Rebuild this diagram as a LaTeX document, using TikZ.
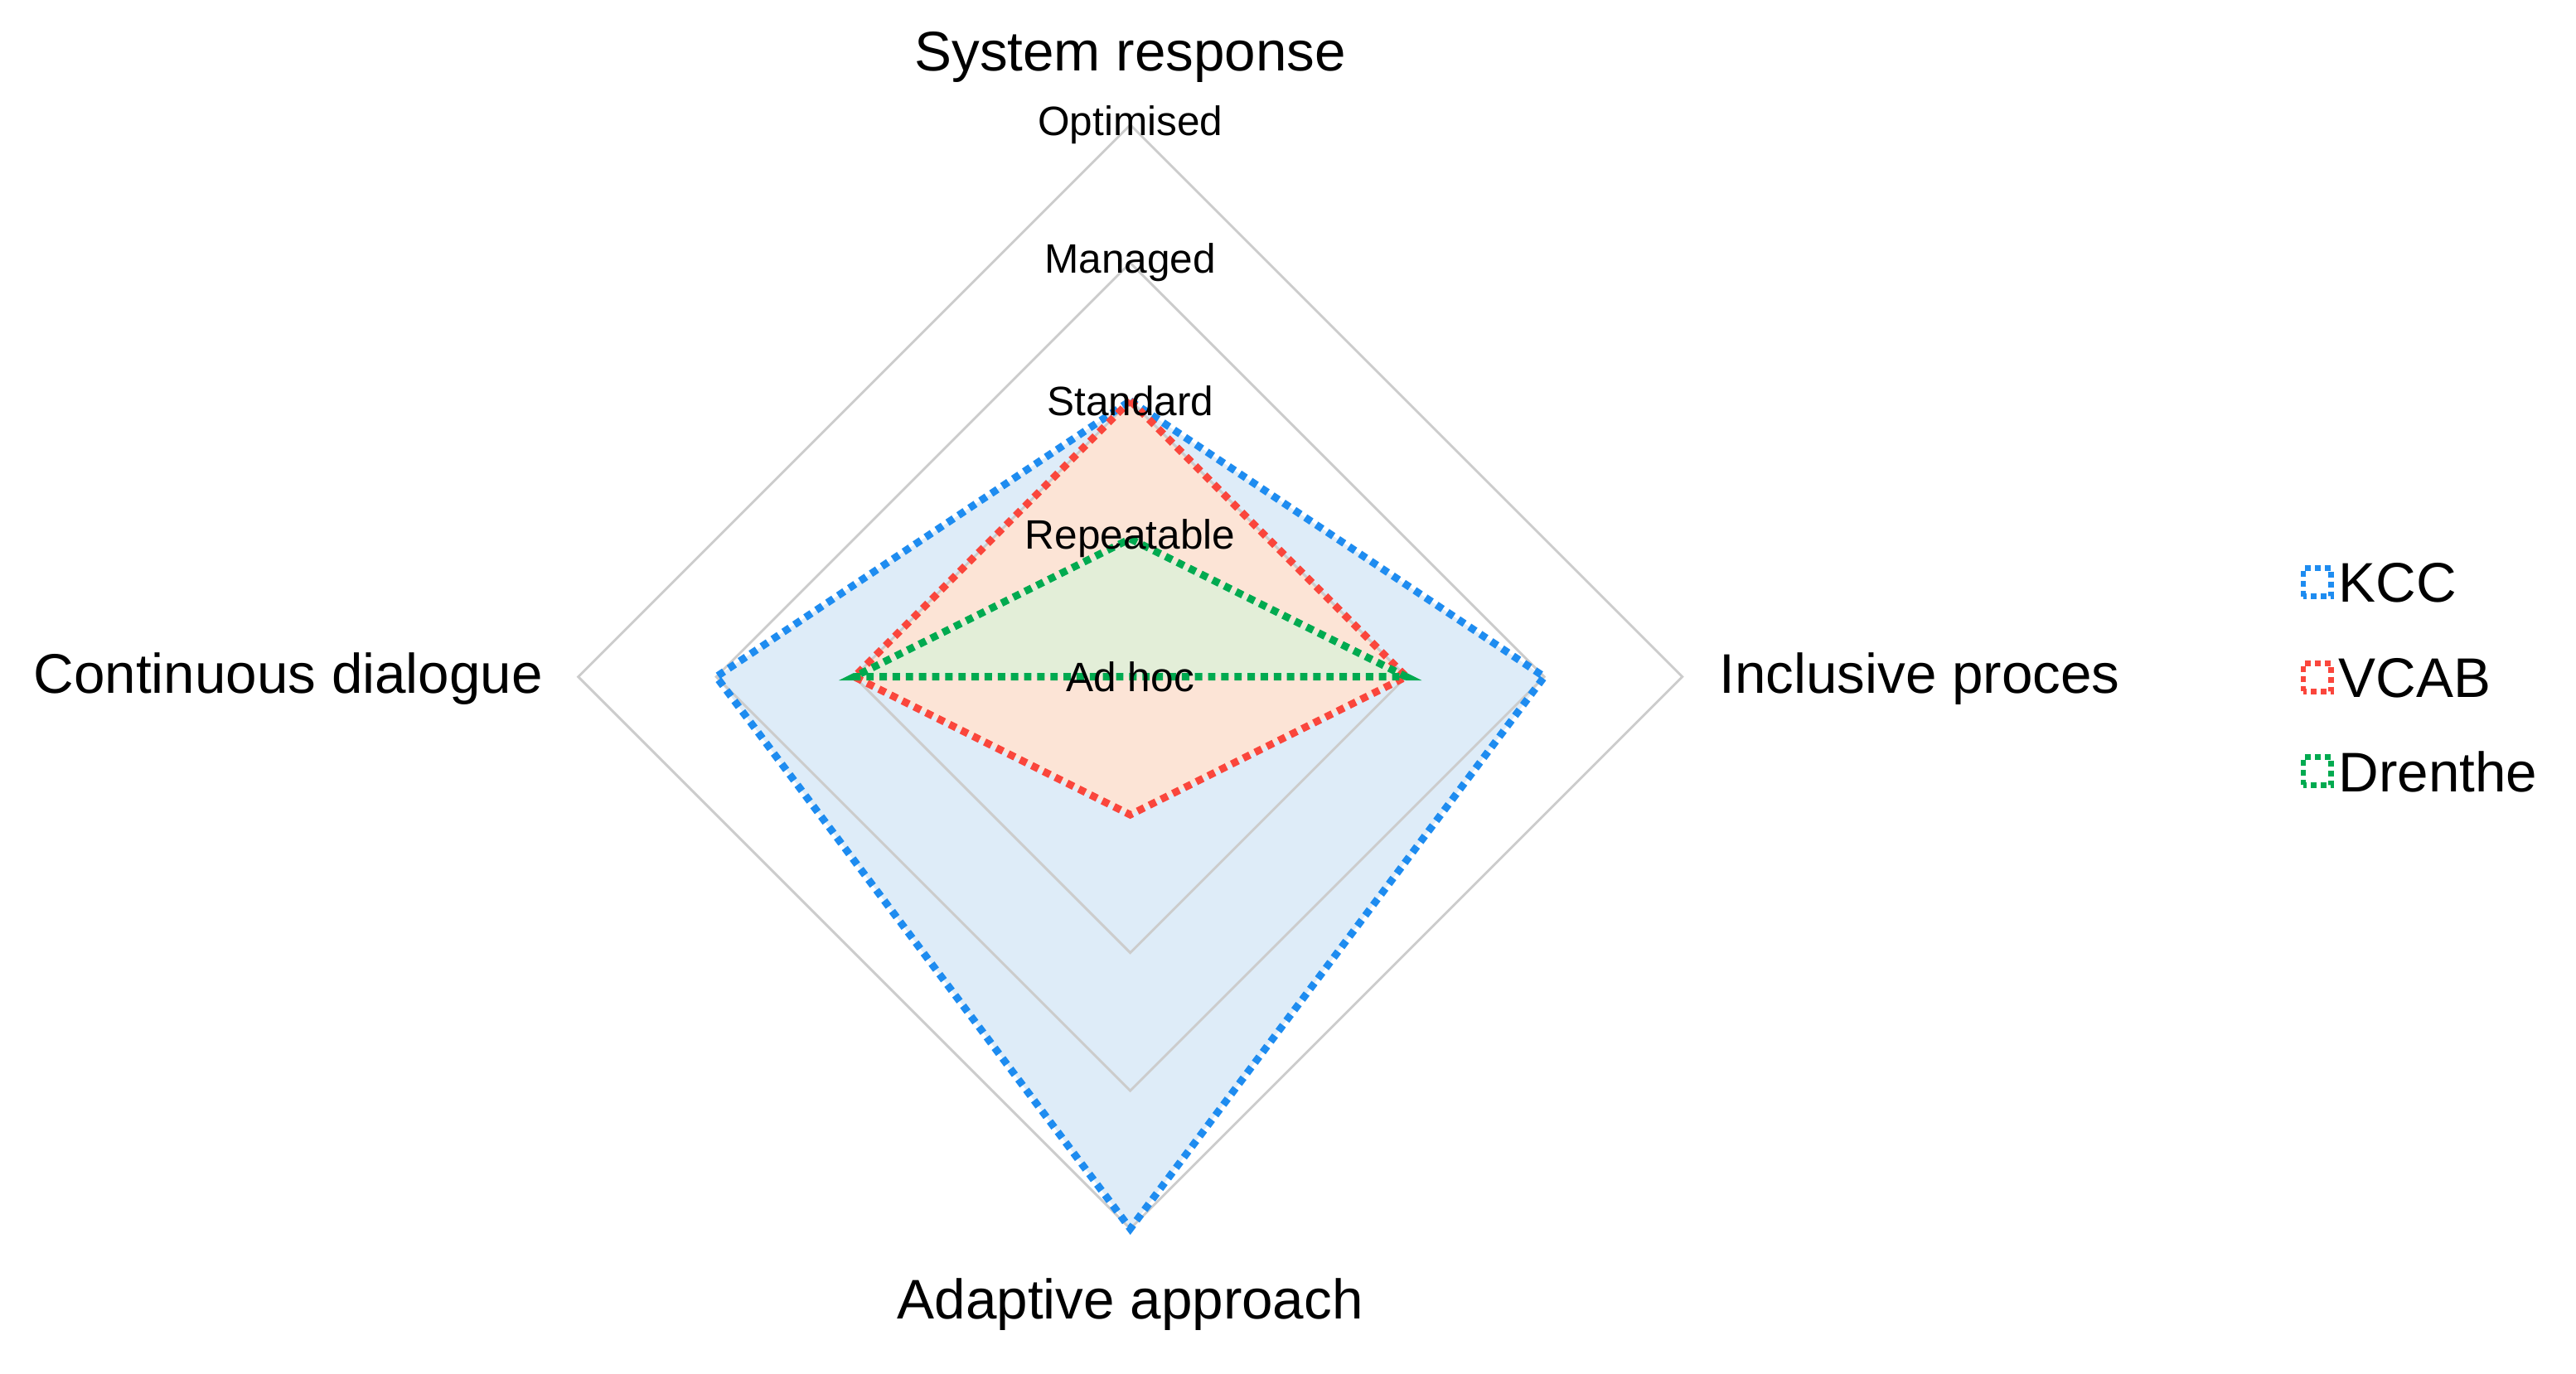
\documentclass[tikz,border=0pt]{standalone}
\usepackage{fontspec}
\setmainfont{Liberation Sans}
\begin{document}
\begin{tikzpicture}[x=1pt,y=1pt,
  grid/.style={draw=black!20,line width=1.5pt},
  ser/.style={line width=4.5pt,dash pattern=on 4.5pt off 3.5pt},
  lvl/.style={font=\fontsize{25}{28}\selectfont},
  ax/.style={font=\fontsize{34}{40}\selectfont},
  leg/.style={font=\fontsize{34}{40}\selectfont,anchor=west}]
\definecolor{kcc}{RGB}{30,140,240}
\definecolor{vcab}{RGB}{250,70,60}
\definecolor{dre}{RGB}{0,170,80}
\definecolor{kccf}{RGB}{222,236,248}
\definecolor{vcabf}{RGB}{252,228,214}
\definecolor{dref}{RGB}{227,238,216}
\useasboundingbox (0,0) rectangle (1568,836);
% fills
\fill[kccf] (688,592)--(940,424)--(688,88)--(436,424)--cycle;
\fill[vcabf] (688,592)--(856,424)--(688,340)--(520,424)--cycle;
\fill[dref] (688,508)--(856,424)--(688,424)--(520,424)--cycle;
% grid
\foreach \r in {168,252,336}
  \draw[grid] (688,424+\r)--(688+\r,424)--(688,424-\r)--(688-\r,424)--cycle;
% series
\draw[ser,kcc] (688,592)--(940,424)--(688,88)--(436,424)--cycle;
\draw[ser,vcab] (688,592)--(856,424)--(688,340)--(520,424)--cycle;
\draw[ser,dre] (688,508)--(856,424)--(688,424)--(520,424)--cycle;
% levels
\node[lvl] (l0) at (688,424) {Ad hoc};
\node[lvl] (l1) at (688,508) {Repeatable};
\node[lvl] (l2) at (688,592) {Standard};
\node[lvl] (l3) at (688,676) {Managed};
\node[lvl] (l4) at (688,760) {Optimised};
% axes
\node[ax] (a1) at (688,801) {System response};
\node[ax,anchor=east] (a2) at (334,423) {Continuous dialogue};
\node[ax,anchor=west] (a3) at (1043,423) {Inclusive proces};
\node[ax] (a4) at (688,42) {Adaptive approach};
% legend
\foreach \y/\c/\t [count=\i] in {481/kcc/KCC,423/vcab/VCAB,366/dre/Drenthe}{
  \draw[\c,line width=3.5pt,dash pattern=on 3.5pt off 2.5pt] (1402,\y-8) rectangle (1419,\y+9);
  \node[leg] (g\i) at (1420,\y) {\t};
}
\end{tikzpicture}
\end{document}
